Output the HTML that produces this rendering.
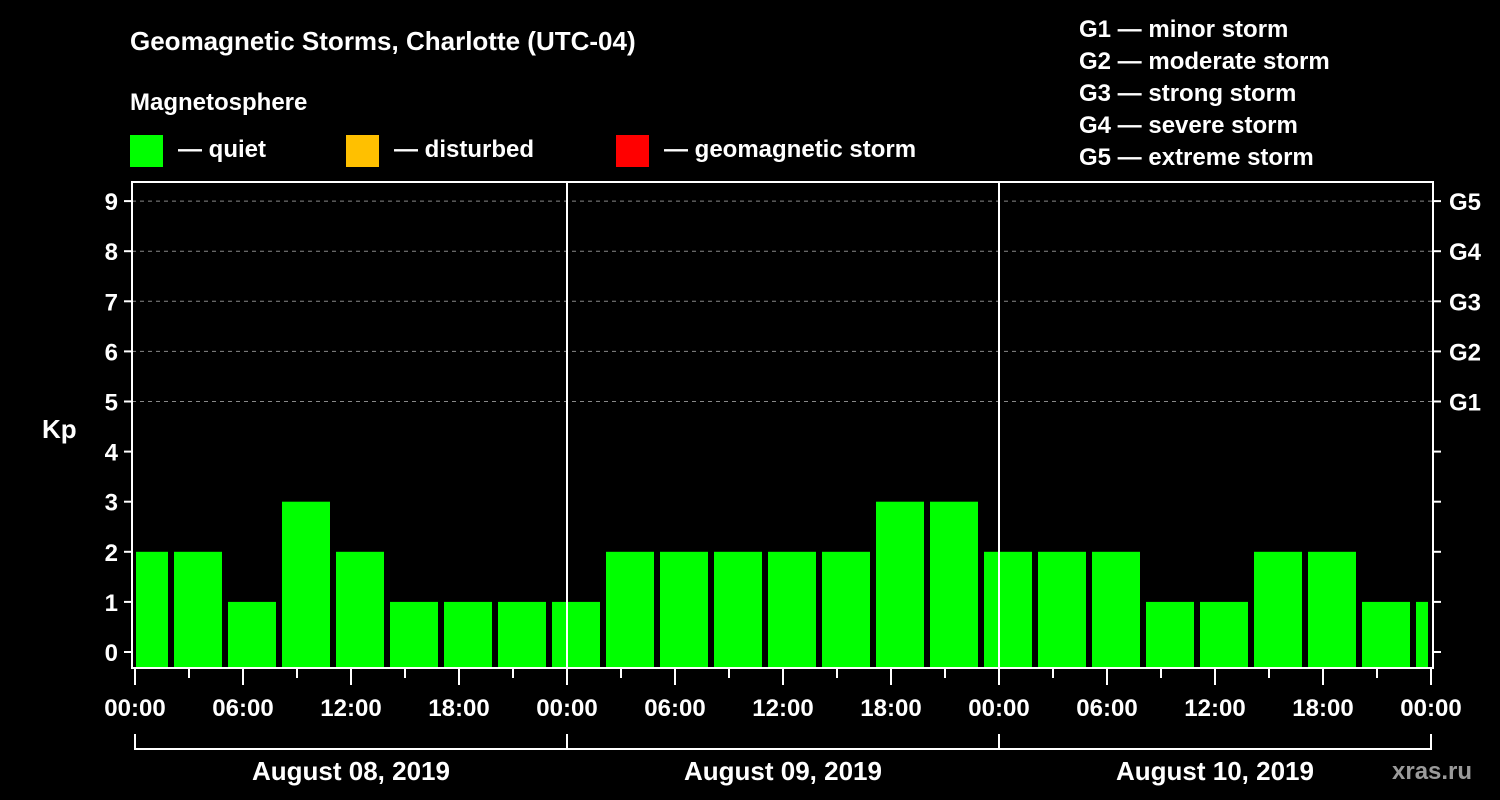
<!DOCTYPE html>
<html><head><meta charset="utf-8"><style>
html,body{margin:0;padding:0;background:#000;width:1500px;height:800px;overflow:hidden}
svg text{font-family:"Liberation Sans",Arial,sans-serif;font-weight:bold;fill:#fff}
</style></head><body>
<svg id="chart" width="1500" height="800" xmlns="http://www.w3.org/2000/svg">
<text x="130" y="50" font-size="26">Geomagnetic Storms, Charlotte (UTC-04)</text>
<text x="130" y="110" font-size="24">Magnetosphere</text>
<rect x="130" y="135" width="33" height="32" fill="#00ff00"/>
<text x="178" y="157" font-size="24">— quiet</text>
<rect x="346" y="135" width="33" height="32" fill="#ffc000"/>
<text x="394" y="157" font-size="24">— disturbed</text>
<rect x="616" y="135" width="33" height="32" fill="#ff0000"/>
<text x="664" y="157" font-size="24">— geomagnetic storm</text>
<g font-size="24">
<text x="1079" y="37">G1 — minor storm</text>
<text x="1079" y="69">G2 — moderate storm</text>
<text x="1079" y="101">G3 — strong storm</text>
<text x="1079" y="133">G4 — severe storm</text>
<text x="1079" y="165">G5 — extreme storm</text>
</g>
<text x="42" y="438" font-size="26">Kp</text>
<text x="1392" y="779" font-size="24" fill="#999" style="fill:#9a9a9a">xras.ru</text>
<g id="grid"></g><g id="bars"></g><g id="axes"></g>
</svg>
<script>
const values=[2,2,1,3,2,1,1,1,1,2,2,2,2,2,3,3,2,2,2,1,1,2,2,1,1];
const yTicks=[0,1,2,3,4,5,6,7,8,9];
const gLabels=["G1","G2","G3","G4","G5"];
const xLabels=["00:00","06:00","12:00","18:00","00:00","06:00","12:00","18:00","00:00","06:00","12:00","18:00","00:00"];
const days=["August 08, 2019","August 09, 2019","August 10, 2019"];
const L=132,R=1433,T=182,B=668,X0=135,HPX=18;
const y=v=>652-v*50.1;
const x=h=>X0+h*HPX;
const NS="http://www.w3.org/2000/svg";
function mk(p,tag,at){const e=document.createElementNS(NS,tag);for(const k in at)e.setAttribute(k,at[k]);document.getElementById(p).appendChild(e);return e;}
for(let v=5;v<=9;v++){const e=mk('grid','line',{x1:L,x2:R,y1:y(v),y2:y(v),stroke:'#888','stroke-dasharray':'4,4','stroke-width':1});

}
values.forEach((v,i)=>{const c=x(0.5+3*i);let x1=Math.max(c-24,L+4),x2=Math.min(c+24,R-5);
const col=v>=5?'#ff0000':(v>=4?'#ffc000':'#00ff00');
const r=mk('bars','rect',{x:x1,y:y(v),width:x2-x1,height:B-y(v),fill:col});

});
const fr=mk('axes','rect',{x:L,y:T,width:R-L,height:B-T,fill:'none',stroke:'#fff','stroke-width':2});


[24,48].forEach(h=>{const e=mk('axes','line',{x1:x(h),x2:x(h),y1:T,y2:B,stroke:'#fff','stroke-width':2});

});
yTicks.forEach(v=>{mk('axes','line',{x1:L-8,x2:L,y1:y(v),y2:y(v),stroke:'#fff','stroke-width':2});
mk('axes','line',{x1:R,x2:R+8,y1:y(v),y2:y(v),stroke:'#fff','stroke-width':2});
const t=mk('axes','text',{x:L-14,y:y(v)+9,'font-size':24,'text-anchor':'end'});t.textContent=v;

});
gLabels.forEach((g,i)=>{const t=mk('axes','text',{x:1449,y:y(5+i)+9,'font-size':24});t.textContent=g;

});
for(let h=0;h<=72;h+=3){const major=h%6===0;mk('axes','line',{x1:x(h),x2:x(h),y1:B+1,y2:B+(major?17:10),stroke:'#fff','stroke-width':2});}
xLabels.forEach((s,i)=>{const t=mk('axes','text',{x:x(i*6),y:716,'font-size':24,'text-anchor':'middle'});t.textContent=s;

});
mk('axes','line',{x1:x(0),x2:x(72),y1:749,y2:749,stroke:'#fff','stroke-width':2});
[0,24,48,72].forEach(h=>mk('axes','line',{x1:x(h),x2:x(h),y1:734,y2:750,stroke:'#fff','stroke-width':2}));
days.forEach((d,i)=>{const t=mk('axes','text',{x:x(i*24+12),y:780,'font-size':26,'text-anchor':'middle'});t.textContent=d;

});
</script>
</body></html>
